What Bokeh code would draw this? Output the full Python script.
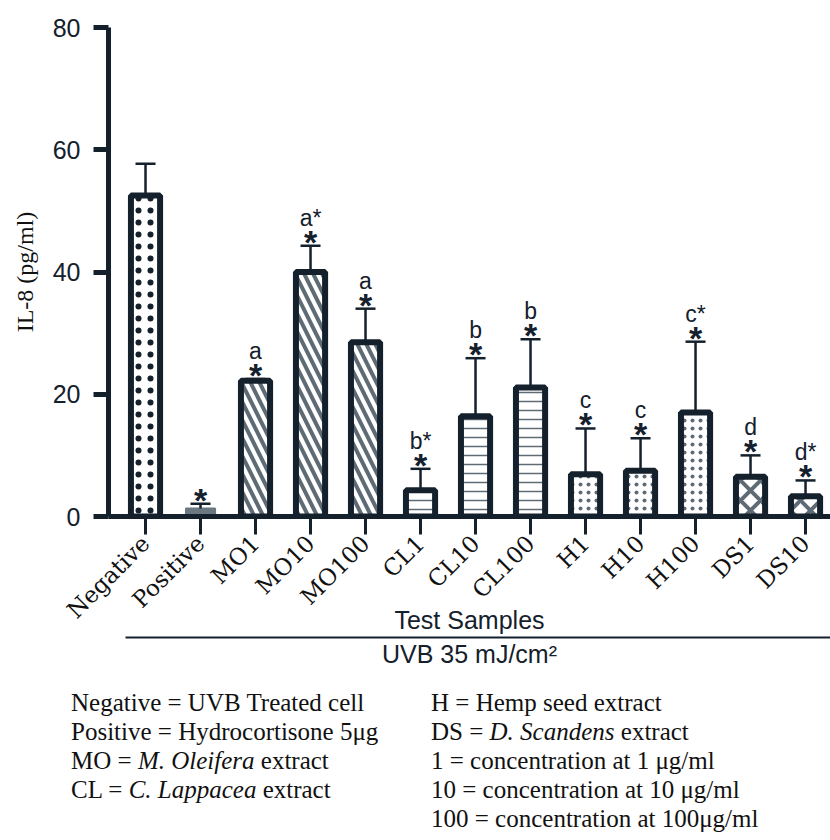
import math
from bokeh.plotting import figure
from bokeh.models import (ColumnDataSource, Range1d, FixedTicker, Whisker, TeeHead,
                          LinearAxis, Div)
from bokeh.layouts import column
from bokeh.core.properties import value
from bokeh.embed import file_html
from bokeh.resources import INLINE

# ---- data ----
samples = ["Negative", "Positive", "MO1", "MO10", "MO100", "CL1", "CL10", "CL100",
           "H1", "H10", "H100", "DS1", "DS10"]
means = [52.5, 1.3, 22.2, 40.0, 28.5, 4.3, 16.4, 21.1, 6.9, 7.5, 17.0, 6.5, 3.3]
upper = [57.7, 2.1, 22.5, 44.3, 34.0, 7.8, 25.9, 29.0, 14.4, 12.8, 28.6, 10.0, 5.9]
stars = ["", "*", "*", "*", "*", "*", "*", "*", "*", "*", "*", "*", "*"]
letters = ["", "", "a", "a*", "a", "b*", "b", "b", "c", "c", "c*", "d", "d*"]
y_ticks = [0, 20, 40, 60, 80]

# ---- styles ----
DARK = "#14202c"
GRAY = "#5e6b75"
hatch = [".", " ", "\\", "\\", "\\", "-", "-", "-", ".", ".", ".", "x", "x"]
hatch_col = [DARK, GRAY, GRAY, GRAY, GRAY, GRAY, GRAY, GRAY, GRAY, GRAY, GRAY, GRAY, GRAY]
hatch_scale = [12, 10, 18, 18, 18, 9, 9, 9, 8, 8, 8, 20, 20]
hatch_weight = [0.8, 1, 4, 4, 4, 1.5, 1.5, 1.5, 1.2, 1.2, 1.2, 4, 4]
fill = ["white", "#6b7882"] + ["white"] * 11
outline = [DARK, "#6b7882"] + [DARK] * 11
outline_w = [6, 2] + [6] * 11

xs = list(range(len(samples)))
src = ColumnDataSource(dict(x=xs, mean=means, upper=upper, stars=stars, letters=letters,
                            hatch=hatch, hcol=hatch_col, hscale=hatch_scale,
                            hweight=hatch_weight, fill=fill, outline=outline, ow=outline_w))

p = figure(width=830, height=680, output_backend="svg", toolbar_location=None,
           x_range=Range1d(-0.673, 12.454), y_range=Range1d(0, 80),
           min_border_left=108, min_border_right=0, min_border_top=27, min_border_bottom=164)
p.outline_line_color = None
p.grid.visible = False
p.background_fill_color = "white"
p.border_fill_color = "white"

p.vbar(x="x", top="mean", bottom=0, width=0.53, source=src, fill_color="fill",
       line_color="outline", line_width="ow", hatch_pattern="hatch", hatch_color="hcol",
       hatch_scale="hscale", hatch_weight="hweight")

w = Whisker(base="x", upper="upper", lower="mean", source=src, line_color=DARK,
            line_width=2.5, upper_head=TeeHead(size=20, line_width=2.5, line_color=DARK),
            lower_head=None, level="overlay")
p.add_layout(w)

p.text(x="x", y="upper", text="stars", source=src, text_align="center",
       text_baseline="alphabetic", y_offset=-4, text_font=value("Liberation Sans"),
       text_font_size="34px", text_font_style="bold", text_color=DARK)
p.text(x="x", y="upper", text="letters", source=src, text_align="center",
       text_baseline="alphabetic", y_offset=-28, text_font=value("Liberation Sans"),
       text_font_size="23px", text_color=DARK)

# y axis
ya = p.yaxis[0]
ya.ticker = FixedTicker(ticks=y_ticks)
ya.axis_line_width = 5
ya.axis_line_color = DARK
ya.major_tick_line_width = 5
ya.major_tick_line_color = DARK
ya.major_tick_out = 15
ya.major_tick_in = 0
ya.minor_tick_line_color = None
ya.major_label_text_font = "Liberation Sans"
ya.major_label_text_font_size = "25px"
ya.major_label_text_color = DARK
ya.major_label_standoff = 13
ya.axis_label = "IL-8 (pg/ml)"
ya.axis_label_text_font = "Liberation Serif"
ya.axis_label_text_font_style = "normal"
ya.axis_label_text_font_size = "24px"
ya.axis_label_text_color = "#111111"
ya.axis_label_standoff = 12

# x axis
xa = p.xaxis[0]
xa.ticker = FixedTicker(ticks=xs)
xa.major_label_overrides = {i: s for i, s in enumerate(samples)}
xa.axis_line_width = 5
xa.axis_line_color = DARK
xa.major_tick_line_width = 3
xa.major_tick_line_color = DARK
xa.major_tick_out = 18
xa.major_tick_in = 0
xa.minor_tick_line_color = None
xa.major_label_orientation = math.pi / 4
xa.major_label_text_font = "DejaVu Serif"
xa.major_label_text_font_size = "23px"
xa.major_label_text_color = "#111111"
xa.major_label_standoff = 5
xa.axis_label = "Test Samples"
xa.axis_label_text_font = "Liberation Sans"
xa.axis_label_text_font_style = "normal"
xa.axis_label_text_font_size = "25px"
xa.axis_label_text_color = DARK
xa.axis_label_standoff = -29

# second axis: underline and condition label
xa2 = LinearAxis(bounds=(-0.364, 12.454), ticker=FixedTicker(ticks=[]),
                 axis_line_width=2, axis_line_color=DARK,
                 major_tick_line_color=None, minor_tick_line_color=None,
                 major_label_text_font_size="0px",
                 axis_label="UVB 35 mJ/cm²", axis_label_text_font="Liberation Sans",
                 axis_label_text_font_style="normal", axis_label_text_font_size="25px",
                 axis_label_text_color=DARK, axis_label_standoff=2)
p.add_layout(xa2, "below")

legend_html = """
<div style="position:relative;width:830px;height:160px;font-family:'Liberation Serif';
font-size:25px;line-height:29px;color:#111;">
<div style="position:absolute;left:66px;top:3px;white-space:nowrap;">
Negative = UVB Treated cell<br>
Positive = Hydrocortisone 5&mu;g<br>
MO = <i>M. Oleifera</i> extract<br>
CL = <i>C. Lappacea</i> extract
</div>
<div style="position:absolute;left:426px;top:3px;white-space:nowrap;">
H = Hemp seed extract<br>
DS = <i>D. Scandens</i> extract<br>
1 = concentration at 1 &mu;g/ml<br>
10 = concentration at 10 &mu;g/ml<br>
100 = concentration at 100&mu;g/ml
</div>
</div>
"""
div = Div(text=legend_html, width=830, height=160)

layout = column(p, div, spacing=0)
open("out.html", "w").write(file_html(layout, INLINE))
